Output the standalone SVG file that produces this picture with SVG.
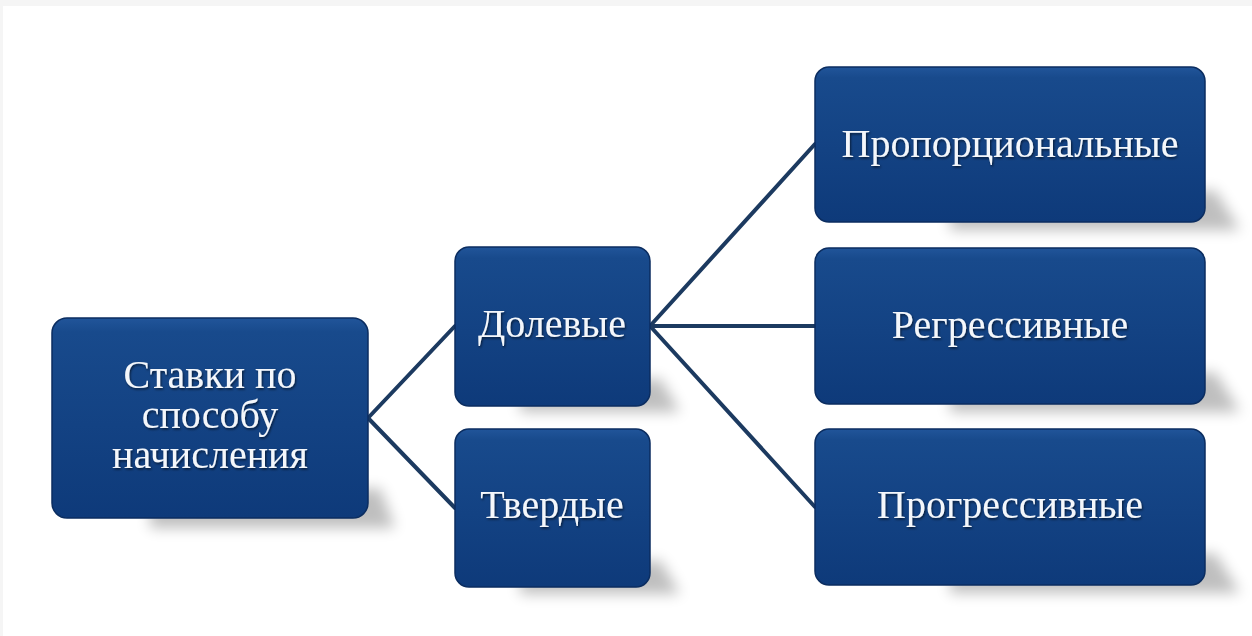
<svg xmlns="http://www.w3.org/2000/svg" width="1252" height="636" viewBox="0 0 1252 636">
<defs>
<linearGradient id="fill" x1="0" y1="0" x2="0" y2="1">
<stop offset="0" stop-color="#21559a"/>
<stop offset="0.07" stop-color="#184a8c"/>
<stop offset="1" stop-color="#0e3a7a"/>
</linearGradient>
<filter id="blur" x="-20%" y="-50%" width="140%" height="200%"><feGaussianBlur stdDeviation="7"/></filter>
<filter id="ts" x="-10%" y="-20%" width="120%" height="140%"><feDropShadow dx="1" dy="1.5" stdDeviation="1" flood-color="#000" flood-opacity="0.6"/></filter>
</defs>
<style>
.box{fill:url(#fill);stroke:#0b2d60;stroke-width:1.5}
.sh{fill:#000;opacity:0.25;filter:url(#blur)}
.lbl{font-family:"Liberation Serif","Times New Roman",serif;font-size:40px;fill:#f4f7fb;text-anchor:middle;filter:url(#ts)}
.con{stroke:#1c3a60;stroke-width:4;fill:none;stroke-linecap:round}
</style>
<rect x="0" y="0" width="1252" height="636" fill="#ffffff"/>
<rect x="0" y="0" width="1252" height="6" fill="#f5f5f5"/>
<rect x="0" y="0" width="3" height="636" fill="#f5f5f5"/>
<g id="connectors">
<line class="con" x1="368" y1="418" x2="455" y2="326"/>
<line class="con" x1="368" y1="418" x2="455" y2="508"/>
<line class="con" x1="650" y1="326" x2="815" y2="144"/>
<line class="con" x1="650" y1="326" x2="815" y2="326"/>
<line class="con" x1="650" y1="326" x2="815" y2="507"/>
</g>
<g id="node-root">
<path class="sh" d="M150 505 L380 488 L395 528 L150 528 Z"/>
<rect class="box" x="52" y="318" width="316" height="200" rx="15"/>
<text class="lbl" x="210" y="388">Ставки по</text>
<text class="lbl" x="210" y="428">способу</text>
<text class="lbl" x="210" y="468">начисления</text>
</g>
<g id="node-dolevye">
<path class="sh" d="M520 395 L660 378 L680 412 L520 412 Z"/>
<rect class="box" x="455" y="247" width="195" height="159" rx="14"/>
<text class="lbl" x="552" y="337">Долевые</text>
</g>
<g id="node-tverdye">
<path class="sh" d="M520 576 L660 560 L680 594 L520 594 Z"/>
<rect class="box" x="455" y="429" width="195" height="158" rx="14"/>
<text class="lbl" x="552" y="518">Твердые</text>
</g>
<g id="node-prop">
<path class="sh" d="M950 211 L1215 190 L1240 230 L950 230 Z"/>
<rect class="box" x="815" y="67" width="390" height="155" rx="14"/>
<text class="lbl" x="1010" y="157">Пропорциональные</text>
</g>
<g id="node-regr">
<path class="sh" d="M950 393 L1215 372 L1240 412 L950 412 Z"/>
<rect class="box" x="815" y="248" width="390" height="156" rx="14"/>
<text class="lbl" x="1010" y="338">Регрессивные</text>
</g>
<g id="node-progr">
<path class="sh" d="M950 574 L1215 553 L1240 593 L950 593 Z"/>
<rect class="box" x="815" y="429" width="390" height="156" rx="14"/>
<text class="lbl" x="1010" y="518">Прогрессивные</text>
</g>
</svg>
